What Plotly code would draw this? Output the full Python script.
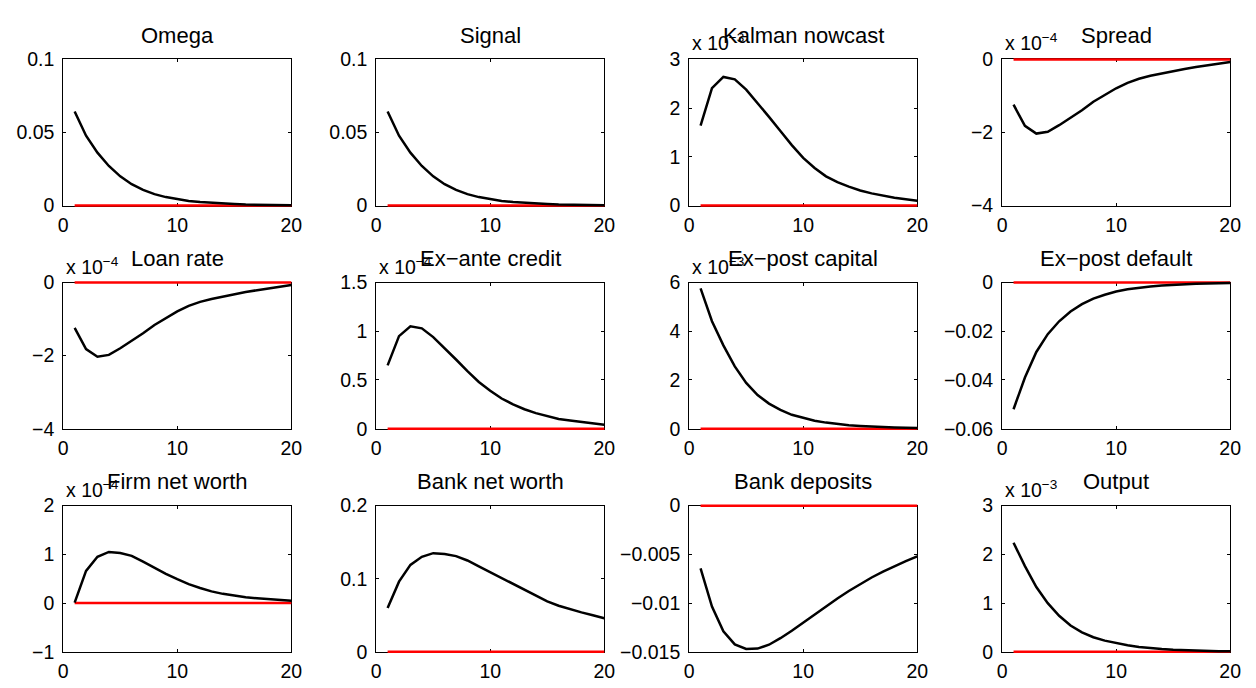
import plotly.graph_objects as go

W, H = 1256, 688

periods = list(range(1, 21))

titles = ["Omega", "Signal", "Kalman nowcast", "Spread",
          "Loan rate", "Ex\u2212ante credit", "Ex\u2212post capital", "Ex\u2212post default",
          "Firm net worth", "Bank net worth", "Bank deposits", "Output"]

# exponent of the "x 10^n" multiplier (None = no multiplier)
exponents = [None, None, -3, -4, -4, -4, -3, None, -4, None, None, -3]

# values in the units shown on each axis (i.e. after dividing by 10^n)
omega = [0.0644, 0.0478, 0.0362, 0.0271, 0.0200, 0.0146, 0.0107, 0.0078, 0.0058, 0.0043,
         0.0032, 0.0024, 0.0018, 0.0013, 0.0010, 0.0007, 0.0005, 0.0004, 0.0003, 0.0002]
signal = [0.0644, 0.0478, 0.0362, 0.0271, 0.0200, 0.0146, 0.0107, 0.0078, 0.0058, 0.0043,
          0.0032, 0.0024, 0.0018, 0.0013, 0.0010, 0.0007, 0.0005, 0.0004, 0.0003, 0.0002]
kalman = [1.64, 2.41, 2.64, 2.59, 2.38, 2.11, 1.82, 1.53, 1.24, 0.98,
          0.77, 0.60, 0.48, 0.39, 0.31, 0.25, 0.20, 0.16, 0.13, 0.10]
spread = [-1.24, -1.82, -2.03, -1.98, -1.80, -1.60, -1.39, -1.16, -0.97, -0.79,
          -0.64, -0.53, -0.45, -0.38, -0.32, -0.26, -0.21, -0.16, -0.11, -0.07]
loan_rate = [-1.24, -1.82, -2.03, -1.98, -1.80, -1.60, -1.39, -1.16, -0.97, -0.79,
             -0.64, -0.53, -0.45, -0.38, -0.32, -0.26, -0.21, -0.16, -0.11, -0.07]
ex_ante_credit = [0.65, 0.95, 1.05, 1.03, 0.94, 0.83, 0.71, 0.59, 0.48, 0.39,
                  0.31, 0.25, 0.20, 0.16, 0.13, 0.10, 0.085, 0.07, 0.055, 0.04]
ex_post_capital = [5.76, 4.41, 3.42, 2.56, 1.88, 1.38, 1.03, 0.77, 0.57, 0.44,
                   0.33, 0.25, 0.19, 0.14, 0.11, 0.08, 0.06, 0.05, 0.04, 0.03]
ex_post_default = [-0.0520, -0.0390, -0.0285, -0.0212, -0.0159, -0.0119, -0.0089, -0.0066, -0.0050, -0.0037,
                   -0.0028, -0.0021, -0.0016, -0.0012, -0.0009, -0.0007, -0.0005, -0.0004, -0.0003, -0.0002]
firm_net_worth = [0.01, 0.66, 0.95, 1.05, 1.03, 0.97, 0.85, 0.72, 0.60, 0.49,
                  0.39, 0.31, 0.24, 0.19, 0.15, 0.12, 0.10, 0.08, 0.06, 0.05]
bank_net_worth = [0.060, 0.096, 0.119, 0.130, 0.135, 0.134, 0.131, 0.125, 0.117, 0.109,
                  0.101, 0.093, 0.084, 0.077, 0.069, 0.063, 0.058, 0.054, 0.050, 0.046]
bank_deposits = [-0.00644, -0.01035, -0.0129, -0.01424, -0.0147, -0.01467, -0.01427, -0.0136, -0.01284, -0.0120,
                 -0.01118, -0.01035, -0.00952, -0.00876, -0.00803, -0.00737, -0.00677, -0.0062, -0.0057, -0.0052]
output = [2.24, 1.76, 1.33, 1.00, 0.74, 0.54, 0.40, 0.30, 0.23, 0.18,
          0.135, 0.10, 0.075, 0.057, 0.043, 0.032, 0.024, 0.018, 0.014, 0.010]
steady_state = [0.0] * 20

series = [omega, signal, kalman, spread, loan_rate, ex_ante_credit, ex_post_capital,
          ex_post_default, firm_net_worth, bank_net_worth, bank_deposits, output]

y_ranges = [(0, 0.1), (0, 0.1), (0, 3), (-4, 0), (-4, 0), (0, 1.5), (0, 6), (-0.06, 0),
            (-1, 2), (0, 0.2), (-0.015, 0), (0, 3)]
y_ticks = [[0, 0.05, 0.1], [0, 0.05, 0.1], [0, 1, 2, 3], [-4, -2, 0], [-4, -2, 0],
           [0, 0.5, 1, 1.5], [0, 2, 4, 6], [-0.06, -0.04, -0.02, 0], [-1, 0, 1, 2],
           [0, 0.1, 0.2], [-0.015, -0.01, -0.005, 0], [0, 1, 2, 3]]
y_ticktext = [["0", "0.05", "0.1"], ["0", "0.05", "0.1"], ["0", "1", "2", "3"],
              ["\u22124", "\u22122", "0"], ["\u22124", "\u22122", "0"],
              ["0", "0.5", "1", "1.5"], ["0", "2", "4", "6"],
              ["\u22120.06", "\u22120.04", "\u22120.02", "0"], ["\u22121", "0", "1", "2"],
              ["0", "0.1", "0.2"], ["\u22120.015", "\u22120.01", "\u22120.005", "0"],
              ["0", "1", "2", "3"]]
x_range = (0, 20)
x_ticks = [0, 10, 20]

# layout geometry (pixels)
col_left = [59, 376, 693, 1010]
box_w = 231
row_top = [50, 280.5, 511]
box_h = 151
pad = 5  # extra room for the data layer so lines on the box edge are not clipped

FONT = "Liberation Sans, Arial, Helvetica, sans-serif"
TICK_SIZE = 19.5
TITLE_SIZE = 22

fig = go.Figure()
layout = dict(width=W, height=H, margin=dict(l=0, r=0, t=0, b=0),
              paper_bgcolor="white", plot_bgcolor="rgba(0,0,0,0)",
              showlegend=False, font=dict(family=FONT, color="black", size=TICK_SIZE))
annotations = []

n = len(titles)
for i in range(n):
    r, c = divmod(i, 4)
    x0 = col_left[c]; x1 = x0 + box_w
    yt = row_top[r]; yb = yt + box_h
    dom_x = [x0 / W, x1 / W]
    dom_y = [1 - yb / H, 1 - yt / H]
    ya, yb_ = y_ranges[i]
    # visible axes (box + ticks)
    k = i + 1
    kx = "xaxis" if k == 1 else f"xaxis{k}"
    ky = "yaxis" if k == 1 else f"yaxis{k}"
    common = dict(showline=True, linecolor="black", linewidth=1, mirror="ticks",
                  ticks="inside", ticklen=3, tickcolor="black", tickwidth=1,
                  showgrid=False, zeroline=False, fixedrange=True,
                  tickfont=dict(family=FONT, size=TICK_SIZE, color="black"))
    layout[kx] = dict(domain=dom_x, range=list(x_range), tickvals=x_ticks,
                      ticktext=[str(v) for v in x_ticks], ticklabelstandoff=2,
                      anchor=("y" if k == 1 else f"y{k}"), **common)
    layout[ky] = dict(domain=dom_y, range=[ya, yb_], tickvals=y_ticks[i],
                      ticktext=y_ticktext[i], ticklabelstandoff=4,
                      anchor=("x" if k == 1 else f"x{k}"), **common)
    # placeholder trace so the framed subplot is created
    fig.add_trace(go.Scatter(x=[None], y=[None], mode="lines", showlegend=False,
                             xaxis=("x" if k == 1 else f"x{k}"),
                             yaxis=("y" if k == 1 else f"y{k}"), hoverinfo="skip"))
    # hidden data axes, same scale, padded domain
    kd = n + i + 1
    sx = (x_range[1] - x_range[0]) / box_w
    sy = (yb_ - ya) / box_h
    layout[f"xaxis{kd}"] = dict(domain=[(x0 - pad) / W, (x1 + pad) / W],
                                range=[x_range[0] - pad * sx, x_range[1] + pad * sx],
                                visible=False, showgrid=False, zeroline=False,
                                fixedrange=True, anchor=f"y{kd}")
    layout[f"yaxis{kd}"] = dict(domain=[1 - (yb + pad) / H, 1 - (yt - pad) / H],
                                range=[ya - pad * sy, yb_ + pad * sy],
                                visible=False, showgrid=False, zeroline=False,
                                fixedrange=True, anchor=f"x{kd}")
    fig.add_trace(go.Scatter(x=periods, y=steady_state, mode="lines",
                             line=dict(color="#ff0000", width=2.5),
                             xaxis=f"x{kd}", yaxis=f"y{kd}", hoverinfo="skip"))
    fig.add_trace(go.Scatter(x=periods, y=series[i], mode="lines",
                             line=dict(color="black", width=2.5),
                             xaxis=f"x{kd}", yaxis=f"y{kd}", hoverinfo="skip"))
    # exponent label
    if exponents[i] is not None:
        annotations.append(dict(text=f"x 10<sup>\u2212{abs(exponents[i])}</sup>",
                                xref="paper", yref="paper",
                                x=(x0 + 1) / W, y=1 - yt / H, xanchor="left",
                                yanchor="bottom", yshift=3, showarrow=False,
                                font=dict(family=FONT, size=TICK_SIZE, color="black")))
    # title
    annotations.append(dict(text=titles[i], xref="paper", yref="paper",
                            x=(x0 + x1) / 2 / W, y=1 - (yt - 25) / H,
                            xanchor="center", yanchor="middle", showarrow=False,
                            font=dict(family=FONT, size=TITLE_SIZE, color="black")))

layout["annotations"] = annotations
fig.update_layout(**layout)
fig.write_html("out.html")
